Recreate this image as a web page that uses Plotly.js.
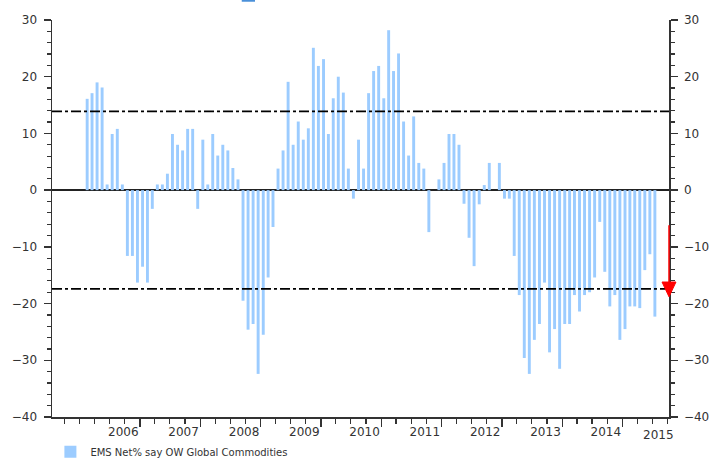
<!DOCTYPE html>
<html>
<head>
<meta charset="utf-8">
<script src="https://cdn.plot.ly/plotly-3.0.1.min.js"></script>
<style>html,body{margin:0;padding:0;background:#fff;}#chart{width:720px;height:461px;}</style>
</head>
<body>
<div id="chart"></div>
<script>
const seriesName = 'EMS Net% say OW Global Commodities';

const months = [
  '2006-02','2006-03','2006-04','2006-05','2006-06','2006-07','2006-08','2006-09','2006-10','2006-11','2006-12',
  '2007-01','2007-02','2007-03','2007-04','2007-05','2007-06','2007-07','2007-08','2007-09','2007-10','2007-11','2007-12',
  '2008-01','2008-02','2008-03','2008-04','2008-05','2008-06','2008-07','2008-08','2008-09','2008-10','2008-11','2008-12',
  '2009-01','2009-02','2009-03','2009-04','2009-05','2009-06','2009-07','2009-08','2009-09','2009-10','2009-11','2009-12',
  '2010-01','2010-02','2010-03','2010-04','2010-05','2010-06','2010-07','2010-08','2010-09','2010-10','2010-11','2010-12',
  '2011-01','2011-02','2011-03','2011-04','2011-05','2011-06','2011-07','2011-08','2011-09','2011-10','2011-11','2011-12',
  '2012-01','2012-02','2012-03','2012-04','2012-05','2012-06','2012-07','2012-08','2012-09','2012-10','2012-11','2012-12',
  '2013-01','2013-02','2013-03','2013-04','2013-05','2013-06','2013-07','2013-08','2013-09','2013-10','2013-11','2013-12',
  '2014-01','2014-02','2014-03','2014-04','2014-05','2014-06','2014-07','2014-08','2014-09','2014-10','2014-11','2014-12',
  '2015-01','2015-02','2015-03','2015-04','2015-05','2015-06','2015-07'
];

const netOW = [
  16.1,17.1,19.0,18.1,1.0,9.9,10.8,1.0,-11.6,-11.6,-16.3,
  -13.5,-16.3,-3.3,1.0,1.0,2.9,9.9,8.0,7.0,10.8,10.8,-3.3,
  8.9,1.0,9.9,6.1,8.0,7.0,3.9,1.9,-19.5,-24.6,-23.6,-32.4,
  -25.5,-15.4,-6.5,3.8,7.0,19.1,8.0,12.1,8.9,10.9,25.1,21.9,
  23.1,9.9,16.2,20.0,17.2,3.8,-1.5,8.9,3.8,17.1,21.0,21.9,
  16.2,28.2,21.0,24.1,12.1,6.1,13.0,4.8,3.8,-7.4,0,1.9,
  4.8,9.9,9.9,8.0,-2.4,-8.4,-13.4,-2.5,0.9,4.8,0,4.8,
  -1.5,-1.5,-11.6,-18.5,-29.6,-32.4,-26.4,-23.6,-16.3,-28.6,-24.5,-31.5,
  -23.6,-23.6,-18.5,-21.4,-18.5,-18.0,-15.4,-5.6,-14.4,-20.5,-18.5,-26.4,
  -24.5,-20.5,-20.5,-20.8,-14.1,-11.3,-22.3
];

const yearTickDates  = ['2007-01-01','2008-01-01','2009-01-01','2010-01-01','2011-01-01','2012-01-01','2013-01-01','2014-01-01','2015-01-01'];
const yearTickLabels = ['2006','2007','2008','2009','2010','2011','2012','2013','2014'];
const endTickDate = '2015-10-01';
const endTickLabel = '2015';

const upperBand = 13.9;
const lowerBand = -17.4;
const arrowFrom = -6.2;
const arrowTop = -16.2;
const arrowTip = -18.8;

const yTickVals = [-40,-30,-20,-10,0,10,20,30];

const tickFont = {family: 'DejaVu Sans, Verdana, sans-serif', size: 12, color: '#333'};
const axisColor = '#333';

const yCommon = {
  range: [-40, 30],
  tickvals: yTickVals,
  ticks: 'outside',
  ticklen: 7,
  tickwidth: 1.3,
  tickcolor: axisColor,
  showline: true,
  linecolor: axisColor,
  linewidth: 1.5,
  showgrid: false,
  tickfont: tickFont,
  ticklabelstandoff: 4,
  automargin: false,
  minor: {dtick: 2, ticks: 'outside', ticklen: 4, tickcolor: axisColor, tickwidth: 1.2, showgrid: false},
  fixedrange: true
};

const traces = [
  {
    type: 'bar',
    x: months,
    y: netOW,
    xperiod: 'M1',
    xperiodalignment: 'middle',
    name: seriesName,
    marker: {color: '#9CCCFF', line: {width: 0}},
    hoverinfo: 'x+y',
    showlegend: true
  },
  {
    type: 'scatter',
    mode: 'none',
    x: months,
    y: netOW,
    xperiod: 'M1',
    xperiodalignment: 'middle',
    yaxis: 'y2',
    showlegend: false,
    hoverinfo: 'skip'
  }
];

const layout = {
  width: 720,
  height: 461,
  margin: {l: 52, r: 51, t: 20, b: 44, autoexpand: false},
  paper_bgcolor: '#fff',
  plot_bgcolor: '#fff',
  bargap: 0.4,
  xaxis: {
    type: 'date',
    range: ['2005-07-17', '2015-10-10'],
    tickvals: yearTickDates,
    ticktext: yearTickLabels,
    ticklabelposition: 'outside left',
    ticklabelstandoff: 3,
    ticks: 'outside',
    ticklen: 8,
    tickwidth: 1.3,
    tickcolor: axisColor,
    showline: true,
    linecolor: axisColor,
    linewidth: 1.5,
    showgrid: false,
    zeroline: false,
    automargin: false,
    tickfont: tickFont,
    minor: {tick0: '2007-01-01', dtick: 'M3', ticks: 'outside', ticklen: 5, tickcolor: axisColor, tickwidth: 1.2, showgrid: false},
    fixedrange: true
  },
  yaxis: Object.assign({}, yCommon, {
    side: 'left',
    zeroline: true,
    zerolinecolor: '#222',
    zerolinewidth: 1.5
  }),
  yaxis2: Object.assign({}, yCommon, {
    side: 'right',
    overlaying: 'y',
    zeroline: false
  }),
  showlegend: true,
  legend: {
    orientation: 'h',
    xref: 'container',
    x: 0.07,
    xanchor: 'left',
    yref: 'container',
    y: 0.02,
    yanchor: 'middle',
    font: {family: 'DejaVu Sans, Verdana, sans-serif', size: 10, color: '#333'},
    bgcolor: 'rgba(0,0,0,0)'
  },
  shapes: [
    {type: 'line', xref: 'paper', x0: 0, x1: 1, yref: 'y', y0: upperBand, y1: upperBand,
     line: {color: '#000', width: 1.8, dash: '10px,3px,3px,3px'}},
    {type: 'line', xref: 'paper', x0: 0, x1: 1, yref: 'y', y0: lowerBand, y1: lowerBand,
     line: {color: '#000', width: 1.8, dash: '10px,3px,3px,3px'}},
    {type: 'line', xref: 'paper', x0: 1, x1: 1, yref: 'y', y0: arrowFrom, y1: arrowTop,
     line: {color: '#FF0000', width: 1.5}},
    {type: 'path', xref: 'paper', yref: 'y',
     path: 'M 0.9887 ' + arrowTop + ' L 1.0113 ' + arrowTop + ' L 1 ' + arrowTip + ' Z',
     fillcolor: '#FF0000', line: {color: '#FF0000', width: 1}},
    {type: 'rect', xref: 'paper', yref: 'paper', x0: 0.3075, x1: 0.329, y0: 1.046, y1: 1.06,
     fillcolor: '#4A90D9', line: {width: 0}}
  ],
  annotations: [
    {xref: 'x', x: endTickDate, yref: 'paper', y: 0, yanchor: 'top', xanchor: 'right', xshift: 8, yshift: -9,
     text: endTickLabel, showarrow: false, font: tickFont}
  ]
};

Plotly.newPlot('chart', traces, layout, {displayModeBar: false, staticPlot: true});
</script>
</body>
</html>
